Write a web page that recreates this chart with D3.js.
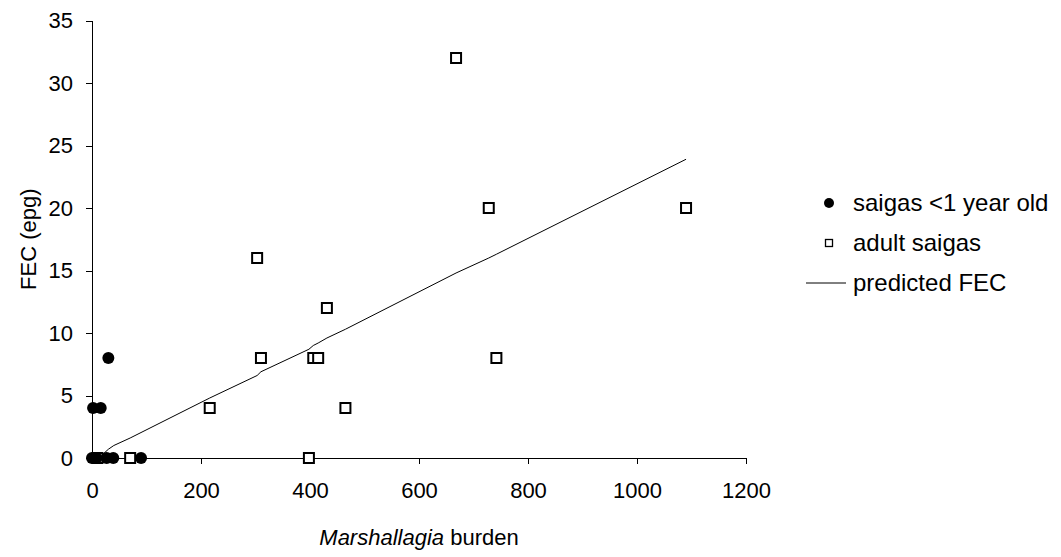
<!DOCTYPE html>
<html>
<head>
<meta charset="utf-8">
<script src="https://cdn.jsdelivr.net/npm/d3@7"></script>
<style>
  body { margin: 0; background: #fff; }
  svg { display: block; font-family: "Liberation Sans", Arial, sans-serif; }
  .axis text { font-size: 22px; fill: #000; }
  .axis path, .axis line { stroke: #000; stroke-width: 1px; shape-rendering: crispEdges; }
  .legend text { font-size: 24px; fill: #000; }
</style>
</head>
<body>
<svg id="chart"></svg>
<script>
// young saigas (<1 year old): burden, FEC
const youngBurden = [0, 2, 16, 30, 8, 27, 39, 90];
const youngFEC    = [0, 4, 4, 8, 0, 0, 0, 0];

// adult saigas
const adultBurden = [10, 70, 216, 303, 310, 398, 406, 415, 431, 465, 668, 728, 742, 1090];
const adultFEC    = [0, 0, 4, 16, 8, 0, 8, 8, 12, 4, 32, 20, 8, 20];

// predicted FEC from the model
const predBurden = [20, 30, 40, 70, 216, 303, 310, 398, 406, 415, 431, 465, 668, 728, 742, 1090];
const predFEC    = [0.3, 0.7, 1.0, 1.6, 4.8, 6.6, 6.9, 8.7, 9.0, 9.2, 9.6, 10.3, 14.8, 16.0, 16.3, 23.9];

const xTicks = [0, 200, 400, 600, 800, 1000, 1200];
const yTicks = [0, 5, 10, 15, 20, 25, 30, 35];
const legendLabels = ["saigas <1 year old", "adult saigas", "predicted FEC"];

const width = 1061, height = 557;
const margin = {top: 20.5, right: 315, bottom: 99, left: 92};

const svg = d3.select("#chart")
    .attr("width", width)
    .attr("height", height);

svg.append("rect").attr("width", width).attr("height", height).attr("fill", "#fff");

const x = d3.scaleLinear()
    .domain([0, 1200])
    .range([margin.left, width - margin.right]);

const y = d3.scaleLinear()
    .domain([0, 35])
    .range([height - margin.bottom, margin.top]);

// axes
svg.append("g")
    .attr("class", "axis x-axis")
    .attr("transform", `translate(0,${y(0)})`)
    .call(d3.axisBottom(x).tickValues(xTicks).tickSize(6).tickPadding(18).tickFormat(d3.format("d")));

svg.append("g")
    .attr("class", "axis y-axis")
    .attr("transform", `translate(${x(0)},0)`)
    .call(d3.axisLeft(y).tickValues(yTicks).tickSize(6).tickPadding(13).tickFormat(d3.format("d")));

// axis titles
const xTitle = svg.append("text")
    .attr("x", (x(0) + x(1200)) / 2)
    .attr("y", 545)
    .attr("text-anchor", "middle")
    .style("font-size", "22px");
xTitle.append("tspan").style("font-style", "italic").text("Marshallagia");
xTitle.append("tspan").text(" burden");

svg.append("text")
    .attr("transform", `translate(36,${(y(0) + y(35)) / 2}) rotate(-90)`)
    .attr("text-anchor", "middle")
    .style("font-size", "22px")
    .text("FEC (epg)");

// predicted line
const pred = predBurden.map((b, i) => ({b, f: predFEC[i]}));
svg.append("path")
    .datum(pred)
    .attr("fill", "none")
    .attr("stroke", "#000")
    .attr("stroke-width", 1)
    .attr("d", d3.line().x(d => x(d.b)).y(d => y(d.f)));

// adult squares
const adults = adultBurden.map((b, i) => ({b, f: adultFEC[i]}));
svg.append("g").selectAll("rect")
    .data(adults)
  .join("rect")
    .attr("x", d => x(d.b) - 5)
    .attr("y", d => y(d.f) - 5)
    .attr("width", 10)
    .attr("height", 10)
    .attr("fill", "#fff")
    .attr("stroke", "#000")
    .attr("stroke-width", 2);

// young circles
const young = youngBurden.map((b, i) => ({b, f: youngFEC[i]}));
svg.append("g").selectAll("circle")
    .data(young)
  .join("circle")
    .attr("cx", d => x(d.b))
    .attr("cy", d => y(d.f))
    .attr("r", 6)
    .attr("fill", "#000");

// legend
const legend = svg.append("g").attr("class", "legend");
const ly = [203, 243, 283];
legend.append("circle").attr("cx", 829).attr("cy", ly[0]).attr("r", 5).attr("fill", "#000");
legend.append("rect").attr("x", 825.5).attr("y", ly[1] - 3.5).attr("width", 7).attr("height", 7)
    .attr("fill", "#fff").attr("stroke", "#000").attr("stroke-width", 1.3);
legend.append("line").attr("x1", 806).attr("x2", 846).attr("y1", ly[2]).attr("y2", ly[2])
    .attr("stroke", "#000").attr("stroke-width", 1);
legend.selectAll("text")
    .data(legendLabels)
  .join("text")
    .attr("x", 853)
    .attr("y", (d, i) => ly[i])
    .attr("dy", "0.35em")
    .text(d => d);
</script>
</body>
</html>
